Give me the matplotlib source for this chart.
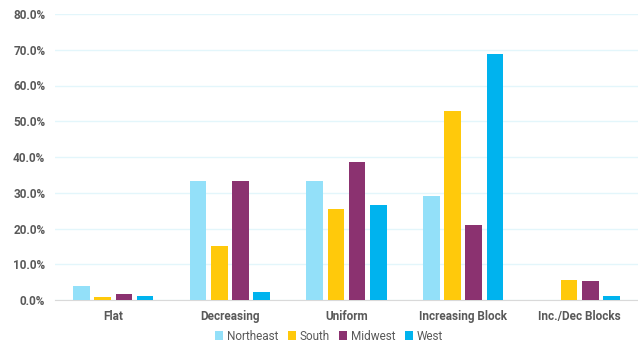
import numpy as np
import matplotlib
matplotlib.use("Agg")
from matplotlib import pyplot as plt
from matplotlib.ticker import FuncFormatter

categories = ["Flat", "Decreasing", "Uniform", "Increasing Block", "Inc./Dec Blocks"]
regions = ["Northeast", "South", "Midwest", "West"]
northeast = [4.0, 33.3, 33.3, 29.1, 0.0]
south = [0.9, 15.2, 25.5, 52.9, 5.6]
midwest = [1.7, 33.3, 38.5, 21.0, 5.2]
west = [1.1, 2.2, 26.6, 68.8, 1.0]
colors = ["#93E0F9", "#FFC90B", "#8B3270", "#00B3EE"]

plt.rcParams['font.family'] = ['Roboto', 'DejaVu Sans']

fig = plt.figure(figsize=(6.38, 3.45), dpi=100)
ax = fig.add_axes([55 / 638, 45 / 345, 583 / 638, 286 / 345])

x = np.arange(len(categories))
step = 0.182
width = 0.143
for i, (vals, name) in enumerate(zip([northeast, south, midwest, west], regions)):
    ax.bar(x + (i - 1.5) * step, vals, width, color=colors[i], label=name, zorder=3)

ax.set_xlim(-0.5, len(categories) - 0.5)
ax.set_ylim(0, 80)
ax.set_yticks(np.arange(0, 81, 10))
ax.yaxis.set_major_formatter(FuncFormatter(lambda v, p: f"{v:.1f}%"))
ax.grid(axis='y', color='#E3F6FB', linewidth=1, zorder=0)
ax.set_xticks(x)
ax.set_xticklabels(categories)
for s in ['top', 'right', 'left']:
    ax.spines[s].set_visible(False)
ax.spines['bottom'].set_color('#D9D9D9')
ax.tick_params(axis='both', length=0, labelsize=8.5, colors='#595959', pad=7)
for lab in ax.get_xticklabels() + ax.get_yticklabels():
    lab.set_fontweight('bold')

fig.legend(loc='center', bbox_to_anchor=(329 / 638, 1 - 336 / 345), ncol=4, frameon=False,
           fontsize=8.5, labelcolor='#595959', handlelength=0.7, handleheight=0.7,
           handletextpad=0.3, columnspacing=0.8, borderpad=0)

fig.savefig("out.png", dpi=100)
